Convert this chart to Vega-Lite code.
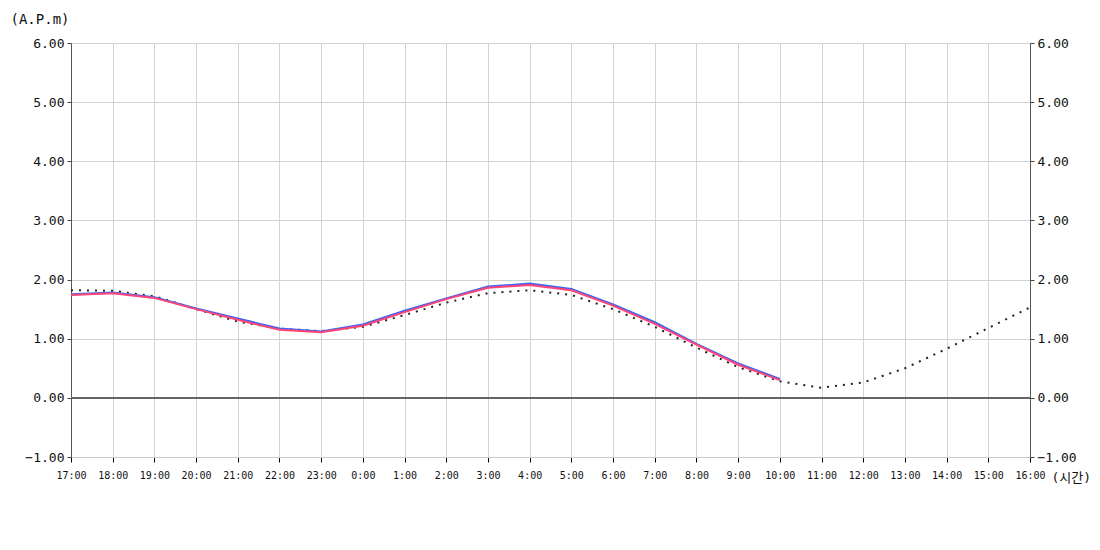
{
  "$schema": "https://vega.github.io/schema/vega-lite/v6.json",
  "autosize": "none",
  "width": 959,
  "height": 414,
  "padding": {"left": 71, "top": 43, "right": 70, "bottom": 93},
  "background": "white",
  "config": {
    "view": {"stroke": null},
    "font": "DejaVu Sans Mono, Noto Sans CJK KR",
    "axis": {"labelFont": "DejaVu Sans Mono", "titleFont": "DejaVu Sans Mono, Noto Sans CJK KR", "labelColor": "#111", "titleColor": "#111"}
  },
  "data": {
    "values": [
      {"time": "17:00", "series": "pred", "value": 1.82},
      {"time": "18:00", "series": "pred", "value": 1.81},
      {"time": "19:00", "series": "pred", "value": 1.72},
      {"time": "20:00", "series": "pred", "value": 1.50},
      {"time": "21:00", "series": "pred", "value": 1.29},
      {"time": "22:00", "series": "pred", "value": 1.17},
      {"time": "23:00", "series": "pred", "value": 1.13},
      {"time": "0:00", "series": "pred", "value": 1.20},
      {"time": "1:00", "series": "pred", "value": 1.40},
      {"time": "2:00", "series": "pred", "value": 1.61},
      {"time": "3:00", "series": "pred", "value": 1.77},
      {"time": "4:00", "series": "pred", "value": 1.82},
      {"time": "5:00", "series": "pred", "value": 1.74},
      {"time": "6:00", "series": "pred", "value": 1.50},
      {"time": "7:00", "series": "pred", "value": 1.20},
      {"time": "8:00", "series": "pred", "value": 0.85},
      {"time": "9:00", "series": "pred", "value": 0.52},
      {"time": "10:00", "series": "pred", "value": 0.28},
      {"time": "11:00", "series": "pred", "value": 0.17},
      {"time": "12:00", "series": "pred", "value": 0.26},
      {"time": "13:00", "series": "pred", "value": 0.50},
      {"time": "14:00", "series": "pred", "value": 0.83},
      {"time": "15:00", "series": "pred", "value": 1.18},
      {"time": "16:00", "series": "pred", "value": 1.53},
      {"time": "17:00", "series": "blue", "value": 1.75},
      {"time": "18:00", "series": "blue", "value": 1.78},
      {"time": "19:00", "series": "blue", "value": 1.70},
      {"time": "20:00", "series": "blue", "value": 1.51},
      {"time": "21:00", "series": "blue", "value": 1.34},
      {"time": "22:00", "series": "blue", "value": 1.17},
      {"time": "23:00", "series": "blue", "value": 1.12},
      {"time": "0:00", "series": "blue", "value": 1.24},
      {"time": "1:00", "series": "blue", "value": 1.47},
      {"time": "2:00", "series": "blue", "value": 1.68},
      {"time": "3:00", "series": "blue", "value": 1.88},
      {"time": "4:00", "series": "blue", "value": 1.93},
      {"time": "5:00", "series": "blue", "value": 1.84},
      {"time": "6:00", "series": "blue", "value": 1.58},
      {"time": "7:00", "series": "blue", "value": 1.28},
      {"time": "8:00", "series": "blue", "value": 0.91},
      {"time": "9:00", "series": "blue", "value": 0.58},
      {"time": "10:00", "series": "blue", "value": 0.32},
      {"time": "17:00", "series": "red", "value": 1.74},
      {"time": "18:00", "series": "red", "value": 1.77},
      {"time": "19:00", "series": "red", "value": 1.69},
      {"time": "20:00", "series": "red", "value": 1.50},
      {"time": "21:00", "series": "red", "value": 1.32},
      {"time": "22:00", "series": "red", "value": 1.15},
      {"time": "23:00", "series": "red", "value": 1.11},
      {"time": "0:00", "series": "red", "value": 1.22},
      {"time": "1:00", "series": "red", "value": 1.45},
      {"time": "2:00", "series": "red", "value": 1.67},
      {"time": "3:00", "series": "red", "value": 1.86},
      {"time": "4:00", "series": "red", "value": 1.91},
      {"time": "5:00", "series": "red", "value": 1.82},
      {"time": "6:00", "series": "red", "value": 1.56},
      {"time": "7:00", "series": "red", "value": 1.25},
      {"time": "8:00", "series": "red", "value": 0.90},
      {"time": "9:00", "series": "red", "value": 0.56},
      {"time": "10:00", "series": "red", "value": 0.30}
    ]
  },
  "encoding": {
    "x": {
      "field": "time", "type": "ordinal",
      "scale": {"type": "point", "padding": 0, "domain": ["17:00","18:00","19:00","20:00","21:00","22:00","23:00","0:00","1:00","2:00","3:00","4:00","5:00","6:00","7:00","8:00","9:00","10:00","11:00","12:00","13:00","14:00","15:00","16:00"]},
      "axis": {
        "title": "(시간)", "titleFontSize": 13, "titleFontWeight": "normal",
        "titleAlign": "left", "titleAnchor": null, "titleX": 980, "titleY": 20, "titleBaseline": "middle",
        "labelAngle": 0, "labelFontSize": 10, "labelFontWeight": "normal", "labelPadding": 8,
        "tickSize": 5, "tickColor": "#000", "domainColor": "#cccccc",
        "grid": true, "gridColor": "#d3d3d3"
      }
    }
  },
  "layer": [
    {
      "mark": {"type": "rule", "color": "#666666", "strokeWidth": 1},
      "encoding": {
        "y": {"datum": 0, "type": "quantitative", "scale": {"domain": [-1, 6], "nice": false},
          "axis": {"orient": "left", "values": [-1,0,1,2,3,4,5,6], "format": ".2f", "title": "(A.P.m)",
            "titleAngle": 0, "titleAlign": "left", "titleAnchor": null, "titleX": -61, "titleY": -24, "titleBaseline": "middle",
            "titleFontSize": 14, "titleFontWeight": "normal",
            "labelFontSize": 13, "labelPadding": 3, "tickSize": 4, "tickColor": "#444", "domainColor": "#555",
            "grid": true, "gridColor": "#d3d3d3"}},
        "x": {"value": 0},
        "x2": {"value": 959}
      }
    },
    {
      "transform": [{"filter": "datum.series === 'pred'"}],
      "mark": {"type": "line", "color": "#222", "strokeWidth": 2, "strokeDash": [2, 6]},
      "encoding": {"y": {"field": "value", "type": "quantitative", "scale": {"domain": [-1, 6], "nice": false}, "axis": null}}
    },
    {
      "transform": [{"filter": "datum.series === 'blue'"}],
      "mark": {"type": "line", "color": "#3a66f5", "strokeWidth": 2.2},
      "encoding": {"y": {"field": "value", "type": "quantitative", "scale": {"domain": [-1, 6], "nice": false}, "axis": null}}
    },
    {
      "transform": [{"filter": "datum.series === 'red'"}],
      "mark": {"type": "line", "color": "#ff4477", "strokeWidth": 2},
      "encoding": {"y": {"field": "value", "type": "quantitative", "scale": {"domain": [-1, 6], "nice": false}, "axis": null}}
    },
    {
      "mark": {"type": "rule", "opacity": 0},
      "encoding": {
        "y": {"datum": 0, "type": "quantitative", "scale": {"domain": [-1, 6], "nice": false},
          "axis": {"orient": "right", "values": [-1,0,1,2,3,4,5,6], "format": ".2f", "title": null,
            "labelFontSize": 13, "labelPadding": 3, "tickSize": 4, "tickColor": "#444", "domainColor": "#555", "grid": false}},
        "x": {"value": 0},
        "x2": {"value": 959}
      }
    }
  ],
  "resolve": {"scale": {"y": "independent"}, "axis": {"y": "independent"}}
}
